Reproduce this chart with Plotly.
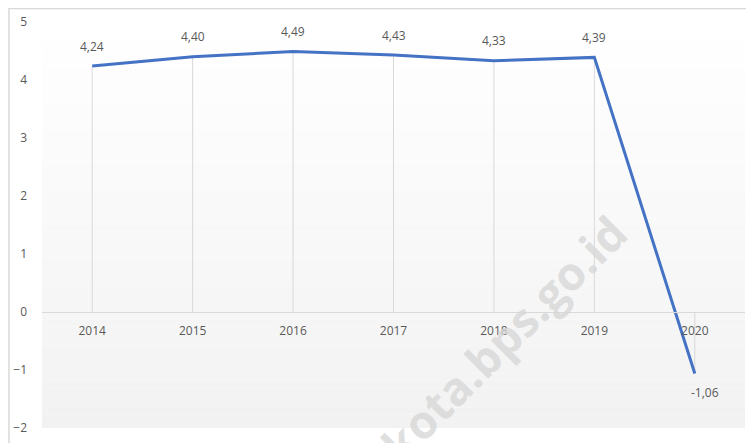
import plotly.graph_objects as go

years = ["2014", "2015", "2016", "2017", "2018", "2019", "2020"]
growth = [4.24, 4.40, 4.49, 4.43, 4.33, 4.39, -1.06]
y_ticks = [-2, -1, 0, 1, 2, 3, 4, 5]

LINE_COLOR = "#4472C4"
TEXT_COLOR = "#595959"
GRID_COLOR = "#d9d9d9"
FONT = "Open Sans"

fig = go.Figure()

# drop lines from each point to the category axis
for yr, v in zip(years, growth):
    fig.add_trace(go.Scatter(x=[yr, yr], y=[0, v], mode="lines",
                             line=dict(color=GRID_COLOR, width=1),
                             hoverinfo="skip", showlegend=False))

fig.add_trace(go.Scatter(x=years, y=growth, mode="lines",
                         line=dict(color=LINE_COLOR, width=3),
                         showlegend=False))

# data labels (category index positions)
for i, v in enumerate(growth):
    txt = f"{v:.2f}".replace(".", ",")
    neg = v < 0
    fig.add_annotation(x=i, y=v, text=txt, showarrow=False,
                       xshift=10 if neg else 0, yshift=-19 if neg else 20,
                       font=dict(family=FONT, size=12, color=TEXT_COLOR))

# gradient plot background
n = 60
shapes = []
for i in range(n):
    t = i / (n - 1)
    c = int(round(242 + (255 - 242) * t))
    shapes.append(dict(type="rect", xref="paper", yref="paper",
                       x0=0, x1=1, y0=i / n, y1=(i + 1) / n,
                       fillcolor=f"rgb({c},{c},{c})", line=dict(width=0),
                       layer="below"))
# outer chart border
shapes.append(dict(type="rect", xref="paper", yref="paper",
                   x0=-0.0470, x1=1.05, y0=-0.08, y1=1.0330,
                   line=dict(color="#d9d9d9", width=1.5),
                   fillcolor="rgba(0,0,0,0)", layer="below"))

# watermark
fig.add_annotation(xref="paper", yref="paper", x=0.656, y=0.222,
                   xanchor="center", yanchor="middle",
                   text="<b>kota.bps.go.id</b>", showarrow=False,
                   textangle=-45,
                   font=dict(family=FONT, size=46, color="rgba(215,215,215,0.8)"))

fig.update_layout(
    width=754, height=443,
    margin=dict(l=34, r=17, t=14, b=23, autoexpand=False),
    paper_bgcolor="white",
    plot_bgcolor="rgba(0,0,0,0)",
    shapes=shapes,
    font=dict(family=FONT, size=12, color=TEXT_COLOR),
    xaxis=dict(type="category", categoryarray=years, categoryorder="array",
               range=[-0.5, len(years) - 0.5],
               anchor="free", position=2 / 7, automargin=False,
               showgrid=False, showline=True, linecolor=GRID_COLOR,
               linewidth=1, ticks="", zeroline=False,
               tickfont=dict(family=FONT, size=12, color=TEXT_COLOR),
               ticklabelstandoff=8, fixedrange=True),
    yaxis=dict(range=[-2, 5], tickvals=y_ticks, showgrid=False,
               zeroline=False, showline=False, ticks="", automargin=False,
               tickfont=dict(family=FONT, size=12, color=TEXT_COLOR),
               ticklabelstandoff=14, fixedrange=True),
)

fig.write_html("out.html")
